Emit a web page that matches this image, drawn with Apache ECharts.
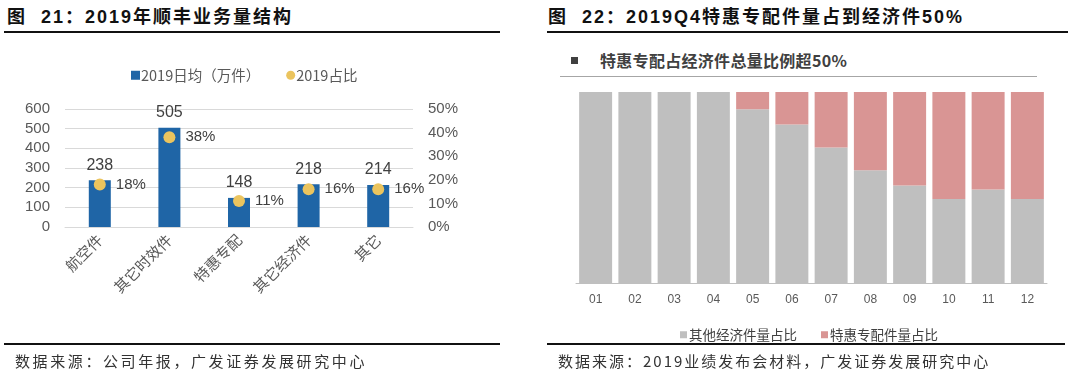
<!DOCTYPE html>
<html>
<head>
<meta charset="utf-8">
<script src="https://cdn.jsdelivr.net/npm/echarts@6/dist/echarts.min.js"></script>
<style>
  body { margin: 0; width: 1071px; height: 376px; background: #fff; position: relative; overflow: hidden;
         font-family: "Liberation Sans", Arial, "Noto Sans CJK SC", sans-serif; }
  .abs { position: absolute; }
  .title { font-size: 18px; font-weight: bold; color: #111; letter-spacing: 2px; line-height: 20px; white-space: nowrap; }
  .rule { height: 2px; background: #111; }
  .src { font-family: "Noto Sans CJK SC", sans-serif; font-size: 15px; color: #333; letter-spacing: 2px; line-height: 20px; white-space: nowrap; }
  .chart { top: 0; height: 376px; }
</style>
</head>
<body>
<div class="abs title" style="left:7px; top:7px;">图&nbsp; 21：2019年顺丰业务量结构</div>
<div class="abs rule" style="left:4px; top:31px; width:496px;"></div>
<div class="abs title" style="left:548px; top:7px;">图&nbsp; 22：2019Q4特惠专配件量占到经济件50%</div>
<div class="abs rule" style="left:547px; top:31px; width:521px;"></div>

<div class="abs" style="left:571px; top:57px; width:7px; height:7px; background:#404040;"></div>
<div class="abs" style="left:600px; top:50px; font-size:16px; font-weight:bold; color:#404040; line-height:20px; letter-spacing:0.3px; font-family:'Noto Sans CJK SC', sans-serif; white-space:nowrap;">特惠专配占经济件总量比例超50%</div>
<div class="abs" style="left:560px; top:76px; width:477px; height:1px; background:#a6a6a6;"></div>

<div id="left" class="abs chart" style="left:0; width:535px;"></div>
<div id="right" class="abs chart" style="left:535px; width:536px;"></div>

<div class="abs rule" style="left:4px; top:343px; width:496px;"></div>
<div class="abs rule" style="left:547px; top:343px; width:518px;"></div>
<div class="abs src" style="left:15px; top:351px; letter-spacing:2.6px;">数据来源：公司年报，广发证券发展研究中心</div>
<div class="abs src" style="left:558px; top:351px;">数据来源：2019业绩发布会材料，广发证券发展研究中心</div>

<script>
// 图21 数据
const leftCategories = ['航空件', '其它时效件', '特惠专配', '其它经济件', '其它'];
const dailyVolume = [238, 505, 148, 218, 214];      // 2019日均（万件）
const volumeShare = [0.18, 0.38, 0.11, 0.16, 0.16]; // 2019占比

// 图22 数据
const months = ['01', '02', '03', '04', '05', '06', '07', '08', '09', '10', '11', '12'];
const otherEconomyShare = [100, 100, 100, 100, 91, 83, 71, 59, 51, 44, 49, 44];
const tehuiShare = [0, 0, 0, 0, 9, 17, 29, 41, 49, 56, 51, 56];

const textColor = '#595959';
const numFont = '"Liberation Sans", Arial, sans-serif';
const cjkFont = '"Noto Sans CJK SC", sans-serif';

const leftChart = echarts.init(document.getElementById('left'));
leftChart.setOption({
  animation: false,
  legend: {
    left: 126, top: 63,
    itemWidth: 9, itemHeight: 9, itemGap: 26,
    textStyle: { color: textColor, fontSize: 14.5, fontFamily: cjkFont, padding: [0, 0, 0, -4] },
    data: [
      { name: '2019日均（万件）', icon: 'rect' },
      { name: '2019占比', icon: 'circle' }
    ]
  },
  grid: { left: 65, top: 109, width: 348, height: 118 },
  xAxis: {
    type: 'category',
    data: leftCategories,
    axisLine: { lineStyle: { color: '#d9d9d9' } },
    axisTick: { show: false },
    axisLabel: { rotate: 45, margin: 10, color: textColor, fontSize: 15, fontFamily: cjkFont }
  },
  yAxis: [
    {
      type: 'value', min: 0, max: 600, interval: 100,
      axisLine: { show: false }, axisTick: { show: false },
      axisLabel: { margin: 15, color: textColor, fontSize: 15, fontFamily: numFont },
      splitLine: { lineStyle: { color: '#d9d9d9' } }
    },
    {
      type: 'value', min: 0, max: 0.5, interval: 0.1,
      axisLine: { show: false }, axisTick: { show: false },
      splitLine: { show: false },
      axisLabel: {
        margin: 15, color: textColor, fontSize: 15, fontFamily: numFont,
        formatter: v => Math.round(v * 100) + '%'
      }
    }
  ],
  series: [
    {
      name: '2019日均（万件）',
      type: 'bar',
      data: dailyVolume,
      barWidth: 22,
      itemStyle: { color: '#1f65a6' },
      label: { show: true, position: 'top', distance: 7, color: '#404040', fontSize: 16, fontFamily: numFont }
    },
    {
      name: '2019占比',
      type: 'scatter',
      yAxisIndex: 1,
      data: volumeShare,
      symbolSize: 12,
      itemStyle: { color: '#ebc45e', opacity: 1 },
      label: {
        show: true, position: 'right', distance: 10,
        color: '#404040', fontSize: 15, fontFamily: numFont,
        formatter: p => Math.round(p.value * 100) + '%'
      }
    }
  ]
});

const rightChart = echarts.init(document.getElementById('right'));
rightChart.setOption({
  animation: false,
  legend: {
    left: 140, top: 323,
    itemWidth: 7, itemHeight: 7, itemGap: 24,
    textStyle: { color: '#404040', fontSize: 13.5, fontFamily: cjkFont, padding: [0, 0, 0, -3] },
    data: [
      { name: '其他经济件量占比', icon: 'rect' },
      { name: '特惠专配件量占比', icon: 'rect' }
    ]
  },
  grid: { left: 41, top: 92, width: 471, height: 191 },
  xAxis: {
    type: 'category',
    data: months,
    axisLine: { lineStyle: { color: '#bfbfbf' } },
    axisTick: { length: 4, lineStyle: { color: '#bfbfbf' } },
    axisLabel: { margin: 11, color: textColor, fontSize: 12, fontFamily: numFont }
  },
  yAxis: {
    type: 'value', min: 0, max: 100, show: false
  },
  series: [
    {
      name: '其他经济件量占比',
      type: 'bar',
      stack: 'share',
      data: otherEconomyShare,
      barCategoryGap: '16%',
      itemStyle: { color: '#bfbfbf' }
    },
    {
      name: '特惠专配件量占比',
      type: 'bar',
      stack: 'share',
      data: tehuiShare,
      itemStyle: { color: '#d99594' }
    }
  ]
});
</script>
</body>
</html>
